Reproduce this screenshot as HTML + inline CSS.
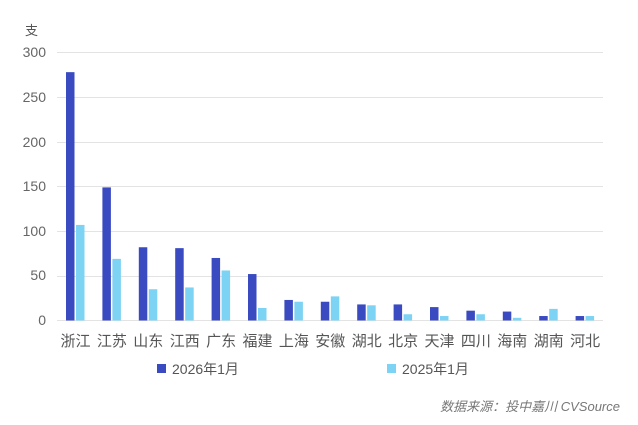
<!DOCTYPE html>
<html><head><meta charset="utf-8"><style>
body{margin:0;background:#fff;}
svg text{font-family:"Liberation Sans","Noto Sans CJK SC",sans-serif;}
</style></head><body>
<svg width="638" height="420" xmlns="http://www.w3.org/2000/svg">
<rect width="638" height="420" fill="#fff"/>
<g stroke="#e3e3e3" stroke-width="1">
<line x1="57" x2="603" y1="52.5" y2="52.5"/>
<line x1="57" x2="603" y1="97.5" y2="97.5"/>
<line x1="57" x2="603" y1="142.5" y2="142.5"/>
<line x1="57" x2="603" y1="186.5" y2="186.5"/>
<line x1="57" x2="603" y1="231.5" y2="231.5"/>
<line x1="57" x2="603" y1="276.5" y2="276.5"/>
<line x1="57" x2="603" y1="320.5" y2="320.5"/>
</g>
<g fill="#666" font-size="14" text-anchor="end">
<text x="46" y="57">300</text><text x="46" y="102">250</text><text x="46" y="147">200</text>
<text x="46" y="191">150</text><text x="46" y="236">100</text><text x="46" y="280">50</text><text x="46" y="325">0</text>
</g>
<text x="25" y="35" fill="#555" font-size="13">支</text>
<g id="bars"></g>
<g fill="#555" font-size="15" text-anchor="middle" id="labels"></g>
<rect x="157" y="364" width="9" height="9" fill="#3a4bc2"/>
<text x="172" y="374" fill="#555" font-size="14">2026年1月</text>
<rect x="387" y="364" width="9" height="9" fill="#7dd3f3"/>
<text x="402" y="374" fill="#555" font-size="14">2025年1月</text>
<text x="620" y="411" fill="#777" font-size="13" font-style="italic" text-anchor="end">数据来源：投中嘉川 CVSource</text>
<script>
var d=[["浙江",278,107],["江苏",149,69],["山东",82,35],["江西",81,37],["广东",70,56],["福建",52,14],["上海",23,21],["安徽",21,27],["湖北",18,17],["北京",18,7],["天津",15,5],["四川",11,7],["海南",10,3],["湖南",5,13],["河北",5,5]];
var ns="http://www.w3.org/2000/svg",b=document.getElementById("bars"),l=document.getElementById("labels"),k=268/300;
d.forEach(function(r,i){var x=66+i*36.4;
[[r[1],x,"#3a4bc2"],[r[2],x+10,"#7dd3f3"]].forEach(function(s){var e=document.createElementNS(ns,"rect");var h=s[0]*k;e.setAttribute("x",s[1]);e.setAttribute("y",320.5-h);e.setAttribute("width",8.5);e.setAttribute("height",h);e.setAttribute("fill",s[2]);b.appendChild(e);});
var t=document.createElementNS(ns,"text");t.setAttribute("x",x+9.5);t.setAttribute("y",346);t.textContent=r[0];l.appendChild(t);});
</script>
</svg>
</body></html>
